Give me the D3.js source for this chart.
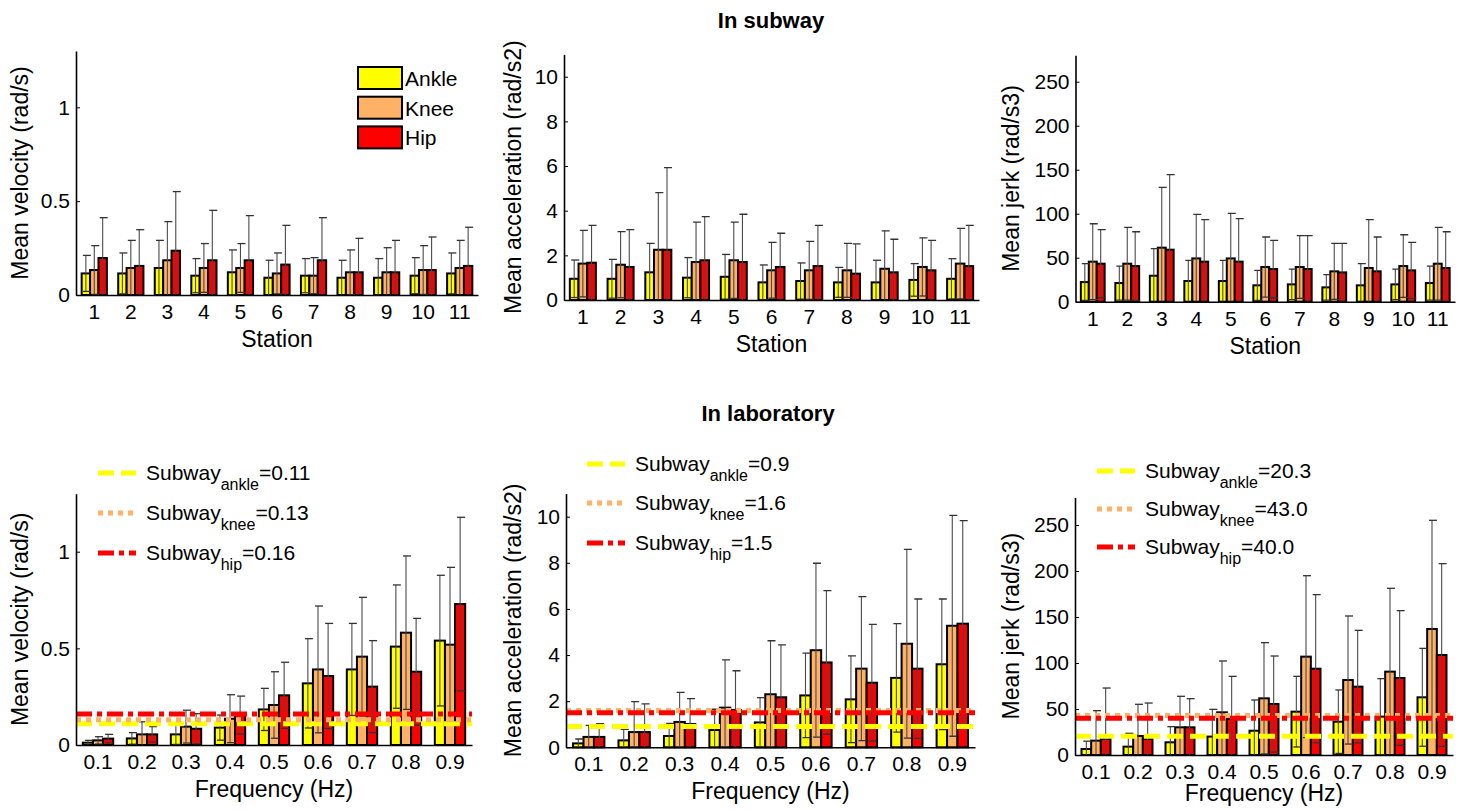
<!DOCTYPE html>
<html><head><meta charset="utf-8">
<script src="https://cdn.jsdelivr.net/npm/d3@7"></script>
<style>
body{margin:0;background:#fff}
svg{display:block}
text{font-family:"Liberation Sans",Arial,Helvetica,sans-serif;fill:#000}
</style>
</head><body>
<svg id="c" width="1469" height="810"></svg>
<script>
// ---------------- DATA ----------------
const stations = ["1","2","3","4","5","6","7","8","9","10","11"];
const freqs = ["0.1","0.2","0.3","0.4","0.5","0.6","0.7","0.8","0.9"];
const joints = ["Ankle","Knee","Hip"];
const jointSub = ["ankle","knee","hip"];

// Subway: velocity (rad/s) – rows: ankle, knee, hip
const velSubMean = [
  [0.115,0.115,0.144,0.103,0.121,0.092,0.103,0.092,0.092,0.103,0.115],
  [0.133,0.144,0.185,0.144,0.144,0.115,0.103,0.121,0.121,0.133,0.144],
  [0.197,0.155,0.236,0.185,0.185,0.162,0.185,0.121,0.121,0.133,0.155]];
const velSubSD = [
  [0.096,0.109,0.147,0.091,0.119,0.093,0.091,0.093,0.102,0.096,0.109],
  [0.130,0.147,0.206,0.130,0.130,0.109,0.096,0.119,0.131,0.130,0.147],
  [0.215,0.193,0.315,0.266,0.238,0.209,0.227,0.181,0.170,0.176,0.206]];

// Subway: acceleration (rad/s2)
const accSubMean = [
  [0.95,0.95,1.24,1.00,1.04,0.79,0.85,0.79,0.79,0.90,0.95],
  [1.63,1.58,2.25,1.70,1.78,1.33,1.33,1.33,1.40,1.48,1.63],
  [1.67,1.48,2.25,1.78,1.70,1.48,1.52,1.18,1.24,1.33,1.52]];
const accSubSD = [
  [0.84,0.87,1.30,0.90,1.00,0.78,0.81,0.67,0.99,0.73,0.90],
  [1.49,1.48,2.56,1.79,1.71,1.25,1.30,1.21,1.70,1.30,1.58],
  [1.67,1.67,3.68,1.95,2.14,1.51,1.82,1.33,1.48,1.34,1.82]];

// Subway: jerk (rad/s3)
const jerkSubMean = [
  [22.3,21.2,29.5,23.5,23.5,18.6,19.7,16.3,18.6,19.7,21.2],
  [45.5,43.2,61.4,49.2,49.2,39.4,39.4,34.5,38.3,40.5,43.2],
  [43.2,40.5,59.1,45.5,45.5,37.1,37.1,33.3,34.5,35.6,38.3]];
const jerkSubSD = [
  [20.9,19.3,30.7,23.5,23.5,17.0,17.4,14.4,24.6,17.4,19.3],
  [43.1,41.3,68.5,50.0,51.2,34.1,35.6,31.8,54.9,35.6,41.3],
  [38.6,39.0,85.2,47.7,48.8,32.6,37.9,33.0,39.0,31.8,41.2]];

// Laboratory: velocity
const velLabMean = [
  [0.012,0.034,0.055,0.090,0.184,0.319,0.391,0.509,0.540],
  [0.024,0.055,0.095,0.136,0.207,0.391,0.457,0.581,0.519],
  [0.033,0.055,0.084,0.155,0.257,0.357,0.302,0.379,0.729]];
const velLabSD = [
  [0.012,0.030,0.052,0.065,0.109,0.231,0.238,0.319,0.338],
  [0.019,0.065,0.085,0.124,0.172,0.328,0.307,0.397,0.400],
  [0.022,0.040,0.078,0.098,0.171,0.272,0.238,0.276,0.449]];

// Laboratory: acceleration
const accLabMean = [
  [0.17,0.30,0.49,0.75,1.08,2.25,2.08,3.01,3.60],
  [0.45,0.66,1.10,1.72,2.30,4.21,3.41,4.49,5.27],
  [0.45,0.66,1.01,1.62,2.17,3.68,2.80,3.41,5.36]];
const accLabSD = [
  [0.19,0.48,0.55,0.90,1.07,1.83,1.88,2.35,2.83],
  [0.50,1.32,1.28,2.07,2.32,3.77,3.12,4.09,4.79],
  [0.58,1.22,1.10,1.70,2.27,3.11,2.53,3.02,4.47]];

// Laboratory: jerk
const jerkLabMean = [
  [6.5,9.1,13.8,20.0,26.4,47.1,36.2,41.7,62.7],
  [15.6,20.7,30.1,46.4,61.6,106.9,81.5,90.6,137.0],
  [17.4,17.4,30.1,39.1,55.4,93.8,74.3,83.7,108.7]];
const jerkLabSD = [
  [8.5,14.5,17.0,29.6,33.4,38.4,34.5,41.3,53.2],
  [32.6,34.4,33.7,55.8,60.5,88.0,69.6,90.6,118.1],
  [55.4,39.1,31.1,46.4,52.2,80.5,61.2,73.2,99.3]];

// Subway reference means shown in the laboratory panels
const velSubRef = [0.11,0.13,0.16];
const accSubRef = [0.9,1.6,1.5];
const jerkSubRef = [20.3,43.0,40.0];

const velTicks = [0,0.5,1];
const accTicks = [0,2,4,6,8,10];
const jerkTicks = [0,50,100,150,200,250];

// ---------------- STYLE ----------------
const colors = ["#FFFF00","#FFB266","#FF0000"];
const dashes = ["16,7","5,5","16,5,5,5"];
const svg = d3.select("#c");

function panel(p){
  const g = svg.append("g");
  const x0 = d3.scaleBand().domain(p.cats).range([p.left,p.right]).paddingInner(0).paddingOuter(0);
  const bw = x0.bandwidth();
  const x1 = d3.scaleBand().domain([0,1,2]).range([bw*0.155, bw*0.845]).padding(0);
  const y = d3.scaleLinear().domain([0,p.ymax]).range([p.base,p.top]);
  const clipId = "clip"+p.id;
  svg.append("clipPath").attr("id",clipId).append("rect")
    .attr("x",p.left).attr("y",p.top).attr("width",p.right-p.left+2).attr("height",p.base-p.top);

  const data = [];
  p.means.forEach((arr,j)=>arr.forEach((m,i)=>data.push({cat:p.cats[i],j,m,sd:p.sds[j][i]})));

  g.append("g").selectAll("rect").data(data).join("rect")
    .attr("x",d=>x0(d.cat)+x1(d.j)).attr("width",x1.bandwidth())
    .attr("y",d=>y(d.m)).attr("height",d=>y(0)-y(d.m))
    .attr("fill",d=>colors[d.j]).attr("stroke","#000").attr("stroke-width",2);

  const eb = g.append("g").attr("clip-path",`url(#${clipId})`);
  const cx = d=>x0(d.cat)+x1(d.j)+x1.bandwidth()/2;
  eb.selectAll("line.v").data(data).join("line").attr("class","v")
    .attr("x1",cx).attr("x2",cx).attr("y1",d=>y(d.m-d.sd)).attr("y2",d=>y(d.m+d.sd))
    .attr("stroke","#4a4a4a").attr("stroke-width",1.1);
  eb.selectAll("line.t").data(data).join("line").attr("class","t")
    .attr("x1",d=>cx(d)-3).attr("x2",d=>cx(d)+5).attr("y1",d=>y(d.m+d.sd)).attr("y2",d=>y(d.m+d.sd))
    .attr("stroke","#333").attr("stroke-width",1.3);
  eb.selectAll("line.b").data(data.filter(d=>d.m-d.sd>0)).join("line").attr("class","b")
    .attr("x1",d=>cx(d)-3).attr("x2",d=>cx(d)+5).attr("y1",d=>y(d.m-d.sd)).attr("y2",d=>y(d.m-d.sd))
    .attr("stroke","#333").attr("stroke-width",1.3);

  if(p.ref){
    const rl = g.append("g").attr("clip-path",`url(#${clipId})`);
    rl.selectAll("line").data(p.ref).join("line")
      .attr("x1",p.left).attr("x2",p.right).attr("y1",d=>y(d)).attr("y2",d=>y(d))
      .attr("stroke",(d,i)=>colors[i]).attr("stroke-width",5)
      .attr("stroke-dasharray",(d,i)=>dashes[i]);
    const lg = g.append("g");
    p.ref.forEach((v,i)=>{
      const ry = p.leg.rows[i];
      lg.append("line").attr("x1",p.leg.x).attr("x2",p.leg.x+38).attr("y1",ry).attr("y2",ry)
        .attr("stroke",colors[i]).attr("stroke-width",5).attr("stroke-dasharray",dashes[i]);
      const t = lg.append("text").attr("x",p.leg.x+48).attr("y",ry+7).attr("font-size",21);
      t.append("tspan").text("Subway");
      t.append("tspan").attr("dy",10).attr("font-size",16).text(jointSub[i]);
      t.append("tspan").attr("dy",-10).text("="+p.refFmt(v));
    });
  }

  const ya = d3.axisLeft(y).tickValues(p.ticks).tickFormat(d=>String(d))
    .tickSizeInner(-4).tickSizeOuter(0).tickPadding(6);
  const yg = g.append("g").attr("transform",`translate(${p.left},0)`).call(ya);
  yg.attr("font-size",21).attr("font-family",null);
  yg.select(".domain").attr("stroke-width",1.6);
  yg.selectAll(".tick line").attr("stroke-width",1);

  const xa = d3.axisBottom(x0).tickSize(0).tickPadding(9);
  const xg = g.append("g").attr("transform",`translate(0,${p.base})`).call(xa);
  xg.attr("font-size",21).attr("font-family",null);
  xg.select(".domain").attr("stroke-width",1.6);

  g.append("text").attr("x",(p.left+p.right)/2).attr("y",p.xly || p.base+52)
    .attr("text-anchor","middle").attr("font-size",23).text(p.xlabel);
  g.append("text").attr("transform",`translate(${p.ylx},${(p.top+p.base)/2}) rotate(-90)`)
    .attr("text-anchor","middle").attr("font-size",23).text(p.ylabel);
}

panel({id:"tl",cats:stations,means:velSubMean,sds:velSubSD,ymax:1.3,ticks:velTicks,
  left:76,right:478,top:51,base:295,xlabel:"Station",ylabel:"Mean velocity (rad/s)",ylx:28});
panel({id:"tm",cats:stations,means:accSubMean,sds:accSubSD,ymax:11,ticks:accTicks,
  left:564,right:979,top:54.4,base:300,xlabel:"Station",ylabel:"Mean acceleration (rad/s2)",ylx:521});
panel({id:"tr",cats:stations,means:jerkSubMean,sds:jerkSubSD,ymax:280,ticks:jerkTicks,
  left:1075.5,right:1455,top:55.3,base:301.7,xlabel:"Station",ylabel:"Mean jerk (rad/s3)",ylx:1019});

panel({id:"bl",cats:freqs,means:velLabMean,sds:velLabSD,ymax:1.3,ticks:velTicks,
  left:76,right:472,top:493.7,base:745,xlabel:"Frequency (Hz)",ylabel:"Mean velocity (rad/s)",ylx:28,
  ref:velSubRef,refFmt:d3.format(".2f"),leg:{x:98,rows:[473,513,553]}});
panel({id:"bm",cats:freqs,means:accLabMean,sds:accLabSD,ymax:11,ticks:accTicks,
  left:566,right:975,top:493.6,base:747.3,xlabel:"Frequency (Hz)",ylabel:"Mean acceleration (rad/s2)",ylx:521,
  ref:accSubRef,refFmt:d3.format(".1f"),leg:{x:587,rows:[464,503,543]}});
panel({id:"br",cats:freqs,means:jerkLabMean,sds:jerkLabSD,ymax:280,ticks:jerkTicks,
  left:1075,right:1453,top:497.4,base:755,xlabel:"Frequency (Hz)",ylabel:"Mean jerk (rad/s3)",ylx:1019,
  xly:801,ref:jerkSubRef,refFmt:d3.format(".1f"),leg:{x:1097,rows:[471,509,547]}});

// top-left legend
const leg = svg.append("g");
joints.forEach((name,i)=>{
  const cy = 78 + i*29.7;
  leg.append("rect").attr("x",358).attr("y",cy-11).attr("width",44).attr("height",22)
    .attr("fill",colors[i]).attr("stroke","#000").attr("stroke-width",2);
  leg.append("text").attr("x",405).attr("y",cy+8).attr("font-size",21).text(name);
});

// titles
svg.append("text").attr("x",771).attr("y",28).attr("text-anchor","middle")
  .attr("font-size",22).attr("font-weight","bold").text("In subway");
svg.append("text").attr("x",768).attr("y",421).attr("text-anchor","middle")
  .attr("font-size",22).attr("font-weight","bold").text("In laboratory");
</script>
</body></html>
